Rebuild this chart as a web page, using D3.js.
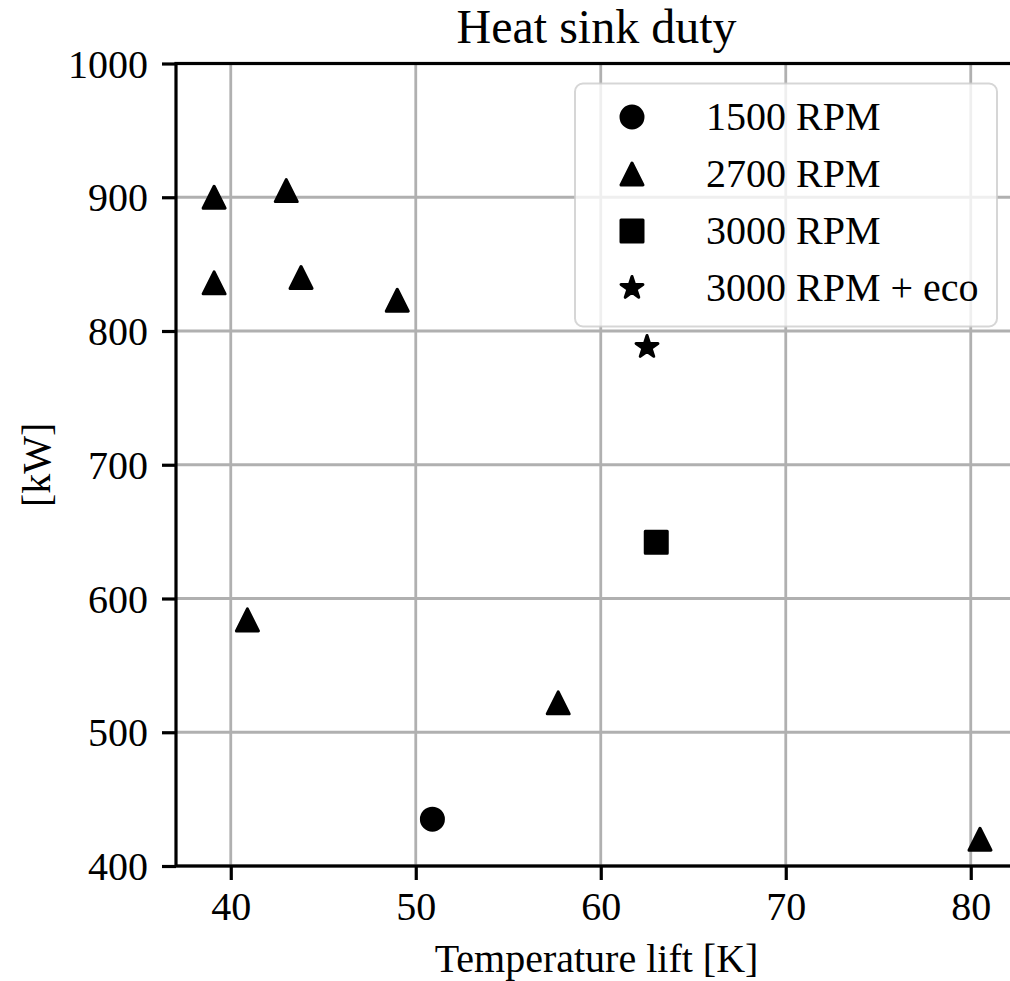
<!DOCTYPE html>
<html>
<head>
<meta charset="utf-8">
<script src="https://cdn.jsdelivr.net/npm/d3@7"></script>
<style>
  body { margin: 0; background: #fff; }
  svg text { font-family: "Liberation Serif", "Times New Roman", serif; fill: #000; }
</style>
</head>
<body>
<svg width="1010" height="981"></svg>
<script>
// series
var seriesNames = ["1500 RPM", "2700 RPM", "3000 RPM", "3000 RPM + eco"];
var lift1500 = [50.9];
var duty1500 = [435];
var lift2700 = [39.1, 43.0, 39.1, 43.8, 49.0, 40.9, 57.7, 80.5];
var duty2700 = [900, 905, 836, 840, 823, 584, 522, 420];
var lift3000 = [63.0];
var duty3000 = [642];
var liftEco = [62.5];
var dutyEco = [788];

var xTicks = [40, 50, 60, 70, 80];
var yTicks = [400, 500, 600, 700, 800, 900, 1000];

var svg = d3.select("svg"),
	margin = {top: 63.5, right: -7, bottom: 115, left: 176},
	width = svg.attr("width") - margin.left - margin.right,
	height = svg.attr("height") - margin.top - margin.bottom,
	g = svg.append("g").attr("transform", "translate(" + margin.left + "," + margin.top + ")");

var x = d3.scaleLinear().domain([37.04, 82.5]).range([0, width]);
var y = d3.scaleLinear().domain([400, 1000]).range([height, 0]);

// marker shapes (matplotlib-like)
function circle(s) { var p = d3.path(); p.arc(0, 0, s / 2, 0, 2 * Math.PI); return p.toString(); }
function triangle(s) { var h = s / 2; return "M0," + (-h) + "L" + h + "," + h + "L" + (-h) + "," + h + "Z"; }
function square(s) { var h = s / 2; return "M" + (-h) + "," + (-h) + "H" + h + "V" + h + "H" + (-h) + "Z"; }
function star(s) {
	var R = s / 2, r = R * 0.381966, pts = [];
	for (var i = 0; i < 10; i++) {
		var a = -Math.PI / 2 + i * Math.PI / 5, rad = i % 2 ? r : R;
		pts.push([rad * Math.cos(a), rad * Math.sin(a)]);
	}
	return "M" + pts.map(function(p) { return p[0].toFixed(2) + "," + p[1].toFixed(2); }).join("L") + "Z";
}

var series = [
	{name: seriesNames[0], xs: lift1500, ys: duty1500, shape: circle, size: 22},
	{name: seriesNames[1], xs: lift2700, ys: duty2700, shape: triangle, size: 22},
	{name: seriesNames[2], xs: lift3000, ys: duty3000, shape: square, size: 22},
	{name: seriesNames[3], xs: liftEco, ys: dutyEco, shape: star, size: 23}
];

// grid
g.append("g").selectAll("line").data(xTicks).enter().append("line")
	.attr("x1", function(d) { return x(d); }).attr("x2", function(d) { return x(d); })
	.attr("y1", 0).attr("y2", height)
	.attr("stroke", "#b0b0b0").attr("stroke-width", 2.8);
g.append("g").selectAll("line").data(yTicks).enter().append("line")
	.attr("y1", function(d) { return y(d); }).attr("y2", function(d) { return y(d); })
	.attr("x1", 0).attr("x2", width)
	.attr("stroke", "#b0b0b0").attr("stroke-width", 2.8);

// points
series.forEach(function(s) {
	g.append("g").selectAll("path").data(s.xs).enter().append("path")
		.attr("transform", function(d, i) { return "translate(" + x(d) + "," + y(s.ys[i]) + ")"; })
		.attr("d", s.shape(s.size))
		.attr("fill", "#000").attr("stroke", "#000")
		.attr("stroke-width", 3).attr("stroke-linejoin", "round");
});

// axes
var xAxis = g.append("g")
	.attr("transform", "translate(0," + height + ")")
	.call(d3.axisBottom(x).tickValues(xTicks).tickFormat(d3.format("d")).tickSize(14).tickPadding(12));
var yAxis = g.append("g")
	.call(d3.axisLeft(y).tickValues(yTicks).tickFormat(d3.format("d")).tickSize(14).tickPadding(14));
[xAxis, yAxis].forEach(function(a) {
	a.attr("font-family", null).attr("font-size", null);
	a.select(".domain").remove();
	a.selectAll("line").attr("stroke", "#000").attr("stroke-width", 3.2);
	a.selectAll("text").attr("font-size", 40);
});
yAxis.selectAll("text").attr("dy", "0.34em");

// spines
g.append("rect")
	.attr("width", width).attr("height", height)
	.attr("fill", "none").attr("stroke", "#000").attr("stroke-width", 3.2);

// labels
svg.append("text")
	.attr("x", margin.left + width / 2).attr("y", 43)
	.attr("text-anchor", "middle").attr("font-size", 48)
	.text("Heat sink duty");
svg.append("text")
	.attr("x", margin.left + width / 2).attr("y", 972)
	.attr("text-anchor", "middle").attr("font-size", 40)
	.text("Temperature lift [K]");
svg.append("text")
	.attr("transform", "translate(50," + (margin.top + height / 2) + ") rotate(-90)")
	.attr("text-anchor", "middle").attr("font-size", 40)
	.text("[kW]");

// legend
var legend = svg.append("g");
legend.append("rect")
	.attr("x", 575).attr("y", 83.5).attr("width", 422).attr("height", 243).attr("rx", 8)
	.attr("fill", "#fff").attr("fill-opacity", 0.8)
	.attr("stroke", "#cccccc").attr("stroke-opacity", 0.8).attr("stroke-width", 2);
var item = legend.selectAll("g.item").data(series).enter().append("g")
	.attr("class", "item")
	.attr("transform", function(d, i) { return "translate(632," + (117 + i * 57) + ")"; });
item.append("path")
	.attr("d", function(d) { return d.shape(d.size); })
	.attr("fill", "#000").attr("stroke", "#000")
	.attr("stroke-width", 3).attr("stroke-linejoin", "round");
item.append("text")
	.attr("x", 74).attr("y", 13)
	.attr("font-size", 40)
	.text(function(d) { return d.name; });
</script>
</body>
</html>
